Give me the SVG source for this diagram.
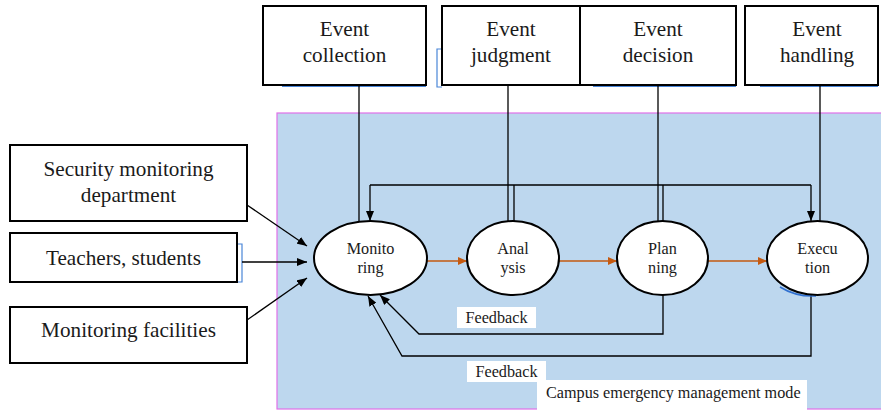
<svg xmlns="http://www.w3.org/2000/svg" width="881" height="414" viewBox="0 0 881 414">
<style>
.box{fill:#fff;stroke:#000;stroke-width:2}
.ell{fill:#fff;stroke:#000;stroke-width:2}
.t{font-family:"Liberation Serif","Times New Roman",serif;fill:#1a1a1a;text-anchor:middle}
.big{font-size:21.2px}
.sm{font-size:16.2px}
.ln{fill:none;stroke:#000;stroke-width:1.3}
.or{fill:none;stroke:#c55a11;stroke-width:1.5}
.sh{fill:none;stroke:#4a86d8;stroke-width:1.2}
</style>
<defs>
<marker id="ah" markerWidth="10" markerHeight="8" refX="10" refY="4" orient="auto" markerUnits="userSpaceOnUse">
<path d="M0,0 L10,4 L0,8 Z" fill="#000"/>
</marker>
<marker id="ao" markerWidth="9" markerHeight="8" refX="9" refY="4" orient="auto" markerUnits="userSpaceOnUse">
<path d="M0,0 L9,4 L0,8 Z" fill="#c55a11"/>
</marker>
</defs>
<rect id="bg" x="277" y="113" width="610" height="296" fill="#bdd7ee" stroke="#e070e8" stroke-width="1.2"/>
<g id="shadows">
<line class="sh" x1="282" y1="86.5" x2="426" y2="86.5" stroke="#8fb4e6"/>
<path class="sh" d="M442,49 H437 V87 H442"/>
<line class="sh" x1="593" y1="86.5" x2="736" y2="86.5" stroke="#8fb4e6"/>
<line class="sh" x1="760" y1="86.5" x2="878" y2="86.5" stroke="#8fb4e6"/>
<path class="sh" d="M237,244 H242 V282 H100"/>
</g>
<g id="connectors">
<line class="ln" x1="359" y1="85" x2="359" y2="222"/>
<line class="ln" x1="508" y1="85" x2="508" y2="221"/>
<line class="ln" x1="658" y1="85" x2="658" y2="221"/>
<line class="ln" x1="820" y1="85" x2="820" y2="221"/>
<path class="ln" d="M370,185 H811"/>
<path class="ln" d="M370,185 V221" marker-end="url(#ah)"/>
<path class="ln" d="M811,185 V221" marker-end="url(#ah)"/>
<line class="ln" x1="514" y1="185" x2="514" y2="221"/>
<line class="ln" x1="663" y1="185" x2="663" y2="221"/>
<line class="or" x1="427" y1="261" x2="467" y2="261" marker-end="url(#ao)"/>
<line class="or" x1="559" y1="261" x2="617" y2="261" marker-end="url(#ao)"/>
<line class="or" x1="708" y1="261" x2="767" y2="261" marker-end="url(#ao)"/>
<path class="ln" d="M663,295 V334 H419 L380,295" marker-end="url(#ah)"/>
<path class="ln" d="M811,295 V356 H402 L368,296" marker-end="url(#ah)"/>
<line class="ln" x1="247" y1="205" x2="307" y2="246" marker-end="url(#ah)"/>
<line class="ln" x1="242" y1="262" x2="307" y2="262" marker-end="url(#ah)"/>
<line class="ln" x1="247" y1="320" x2="307" y2="278" marker-end="url(#ah)"/>
</g>
<g id="n-collection">
<rect class="box" x="263" y="6" width="163" height="79"/>
<text class="t big" x="344.5" y="36">Event</text>
<text class="t big" x="344.5" y="62">collection</text>
</g>
<g id="n-judgment">
<rect class="box" x="442" y="6" width="138" height="79"/>
<text class="t big" x="511" y="36">Event</text>
<text class="t big" x="511" y="62">judgment</text>
</g>
<g id="n-decision">
<rect class="box" x="580" y="6" width="156" height="79"/>
<text class="t big" x="658" y="36">Event</text>
<text class="t big" x="658" y="62">decision</text>
</g>
<g id="n-handling">
<rect class="box" x="745" y="6" width="133" height="79"/>
<text class="t big" x="817" y="36">Event</text>
<text class="t big" x="817" y="62">handling</text>
</g>
<g id="n-security">
<rect class="box" x="10" y="145" width="237" height="76"/>
<text class="t big" x="128.5" y="176">Security monitoring</text>
<text class="t big" x="128.5" y="202">department</text>
</g>
<g id="n-teachers">
<rect class="box" x="10" y="233" width="227" height="49"/>
<text class="t big" x="123.5" y="265">Teachers, students</text>
</g>
<g id="n-facilities">
<rect class="box" x="10" y="307" width="237" height="56"/>
<text class="t big" x="128.5" y="337">Monitoring facilities</text>
</g>
<g id="n-monitoring">
<ellipse class="ell" cx="370.5" cy="258" rx="56.5" ry="37"/>
<text class="t sm" x="370.5" y="254">Monito</text>
<text class="t sm" x="370.5" y="273">ring</text>
</g>
<g id="n-analysis">
<ellipse class="ell" cx="513" cy="258" rx="46" ry="37"/>
<text class="t sm" x="513" y="254">Anal</text>
<text class="t sm" x="513" y="273">ysis</text>
</g>
<g id="n-planning">
<ellipse class="ell" cx="662.5" cy="258" rx="45.5" ry="37"/>
<text class="t sm" x="662.5" y="254">Plan</text>
<text class="t sm" x="662.5" y="273">ning</text>
</g>
<g id="n-execution">
<path d="M780,287 Q796,297 816,296" fill="none" stroke="#3070d0" stroke-width="1.5"/>
<ellipse class="ell" cx="817.5" cy="258" rx="50.5" ry="37"/>
<text class="t sm" x="817.5" y="254">Execu</text>
<text class="t sm" x="817.5" y="273">tion</text>
</g>
<g id="lbl-feedback1">
<rect x="457" y="307" width="79" height="21" fill="#fff"/>
<text class="t sm" x="496.5" y="323">Feedback</text>
</g>
<g id="lbl-feedback2">
<rect x="467" y="361" width="79" height="21" fill="#fff"/>
<text class="t sm" x="506.5" y="377">Feedback</text>
</g>
<g id="lbl-campus">
<rect x="537" y="380" width="270" height="34" fill="#fff"/>
<text class="t sm" x="546" y="398" style="text-anchor:start">Campus emergency management mode</text>
</g>
</svg>
